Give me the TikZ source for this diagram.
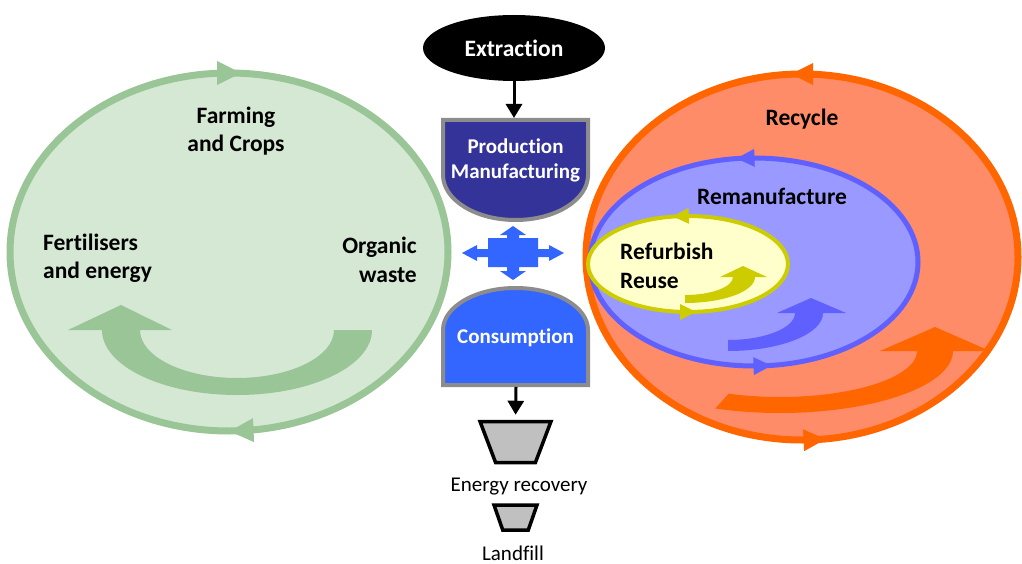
\documentclass[tikz,border=0pt]{standalone}
\usepackage{fontspec}
\setmainfont{Carlito}[Ligatures=NoCommon]
\usepackage{xcolor}
\definecolor{colorFarmLine}{HTML}{99C597}
\definecolor{colorFarmFill}{HTML}{D5E8D4}
\definecolor{colorRecycleLine}{HTML}{FF6600}
\definecolor{colorRecycleFill}{HTML}{FF8C69}
\definecolor{colorReman}{HTML}{6060FF}
\definecolor{colorRemanFill}{HTML}{9999FF}
\definecolor{colorReuse}{HTML}{CCCC00}
\definecolor{colorReuseFill}{HTML}{FFFFCC}
\definecolor{colorProduction}{HTML}{333399}
\definecolor{colorConsumption}{HTML}{3366FF}
\definecolor{colorBorder}{HTML}{8C8C8C}
\definecolor{colorBin}{HTML}{C0C0C0}
\usepackage{tikz}
\usetikzlibrary{arrows.meta, shapes.geometric, decorations.markings}
\tikzset{
  loophead/.style n args={4}{postaction={decorate}, decoration={markings,
    mark=at position #1 with {\fill[#4] (-#3,-#3) -- (#3,0) -- (-#3,#3) -- cycle;},
    mark=at position #2 with {\fill[#4] (-#3,-#3) -- (#3,0) -- (-#3,#3) -- cycle;}}}
}

\begin{document}
\begin{tikzpicture}[x=1pt, y=-1pt,
  title/.style={font=\bfseries\fontsize{23.5}{28.5}\selectfont, align=center, inner sep=0pt},
  boxtitle/.style={font=\bfseries\fontsize{21}{25}\selectfont, text=white, align=center, inner sep=0pt},
  plaintitle/.style={font=\fontsize{21}{25}\selectfont, inner sep=0pt},
  bin/.style={trapezium, shape border rotate=180, trapezium stretches, draw=black, line width=3.5pt, fill=colorBin},
  flow/.style={-{Triangle[length=14pt,width=16pt]}, line width=3pt},
  boxline/.style={draw=colorBorder, line width=4pt}]
\useasboundingbox (0,0) rectangle (1022,564);

\draw[colorFarmLine, line width=7pt, preaction={fill=colorFarmFill}, loophead={0.24}{0.75}{12}{colorFarmLine}] (229,252) ellipse [x radius=219, y radius=179];
\fill[colorFarmLine] (372,330) arc[start angle=0, end angle=180, x radius=135, y radius=65] -- (68,330) -- (121,305) -- (172,330) -- (140,330) arc[start angle=180, end angle=0, x radius=97, y radius=48] -- cycle;
\node[title] (farm) at (236,131) {Farming\\and Crops};
\node[title, align=left, anchor=west] (fert) at (43,258) {Fertilisers\\and energy};
\node[title, align=right, anchor=east] (organic) at (417,260) {Organic\\waste};

\draw[colorRecycleLine, line width=7pt, preaction={fill=colorRecycleFill}, loophead={0.25}{0.76}{11}{colorRecycleLine}] (1018,257) arc[start angle=0, end angle=-360, x radius=216, y radius=183] -- cycle;
\fill[colorRecycleLine] (780,351) ++(112:173 and 62) arc[start angle=112, end angle=0, x radius=173, y radius=62] -- (990,351) -- (935,327) -- (880,351) -- (917,351) arc[start angle=0, end angle=112, x radius=137, y radius=46] -- cycle;
\node[title] (recycle) at (802,119) {Recycle};

\draw[colorReman, line width=5pt, preaction={fill=colorRemanFill}, loophead={0.26}{0.76}{9}{colorReman}] (918,262) arc[start angle=0, end angle=-360, x radius=164, y radius=104] -- cycle;
\fill[colorReman] (728,351) arc[start angle=90, end angle=0, x radius=95, y radius=38] -- (846,313) -- (811,298) -- (777,313) -- (795,313) arc[start angle=0, end angle=90, x radius=67, y radius=27] -- cycle;
\node[title] (reman) at (772,196) {Remanufacture};

\draw[colorReuse, line width=4pt, preaction={fill=colorReuseFill}, loophead={0.265}{0.75}{8}{colorReuse}] (788,264) arc[start angle=0, end angle=-360, x radius=100, y radius=48] -- cycle;
\fill[colorReuse] (685,303) arc[start angle=90, end angle=0, x radius=70, y radius=26] -- (767,277) -- (743,266) -- (720,277) -- (733,277) arc[start angle=0, end angle=90, x radius=48, y radius=18] -- cycle;
\node[title, align=left, anchor=west] (reuse) at (620,266) {Refurbish\\Reuse};

\node[title, ellipse, fill=black, text=white, minimum width=182pt, minimum height=66pt] (extr) at (514,48) {Extraction};
\draw[boxline, fill=colorProduction] (443,120) -- (588,120) -- (588,175) arc[start angle=0, end angle=180, x radius=72.5, y radius=45] -- cycle;
\node[boxtitle] (prod) at (515.5,160) {Production\\Manufacturing};
\coordinate (prodtop) at (514,118);
\draw[flow] (extr) -- (prodtop);

\fill[colorConsumption, shift={(513,253)}] (-51,0) -- (-36,-8) -- (-36,-4) -- (-25,-4) -- (-25,-15) -- (-6,-15) -- (-6,-18) -- (-13,-18) -- (0,-27) -- (13,-18) -- (6,-18) -- (6,-15) -- (25,-15) -- (25,-4) -- (36,-4) -- (36,-8) -- (51,0) -- (36,8) -- (36,4) -- (25,4) -- (25,14) -- (6,14) -- (6,18) -- (13,18) -- (0,27) -- (-13,18) -- (-6,18) -- (-6,14) -- (-25,14) -- (-25,4) -- (-36,4) -- (-36,8) -- cycle;

\draw[boxline, fill=colorConsumption] (443,385) -- (443,330) arc[start angle=180, end angle=360, x radius=72.5, y radius=42] -- (588,385) -- cycle;
\node[boxtitle] (cons) at (515.5,338) {Consumption};
\coordinate (consbot) at (516,387);

\node[bin, trapezium angle=68.7, minimum width=71pt, minimum height=41pt] (enrec) at (515.5,442) {};
\draw[flow, shorten >=5pt] (consbot) -- (enrec.north);
\node[plaintitle] (enrectext) at (519,487) {Energy recovery};
\node[bin, trapezium angle=71.2, minimum width=43pt, minimum height=25pt] (landfill) at (515.5,517.5) {};
\node[plaintitle] (landtext) at (513,553) {Landfill};
\end{tikzpicture}
\end{document}
